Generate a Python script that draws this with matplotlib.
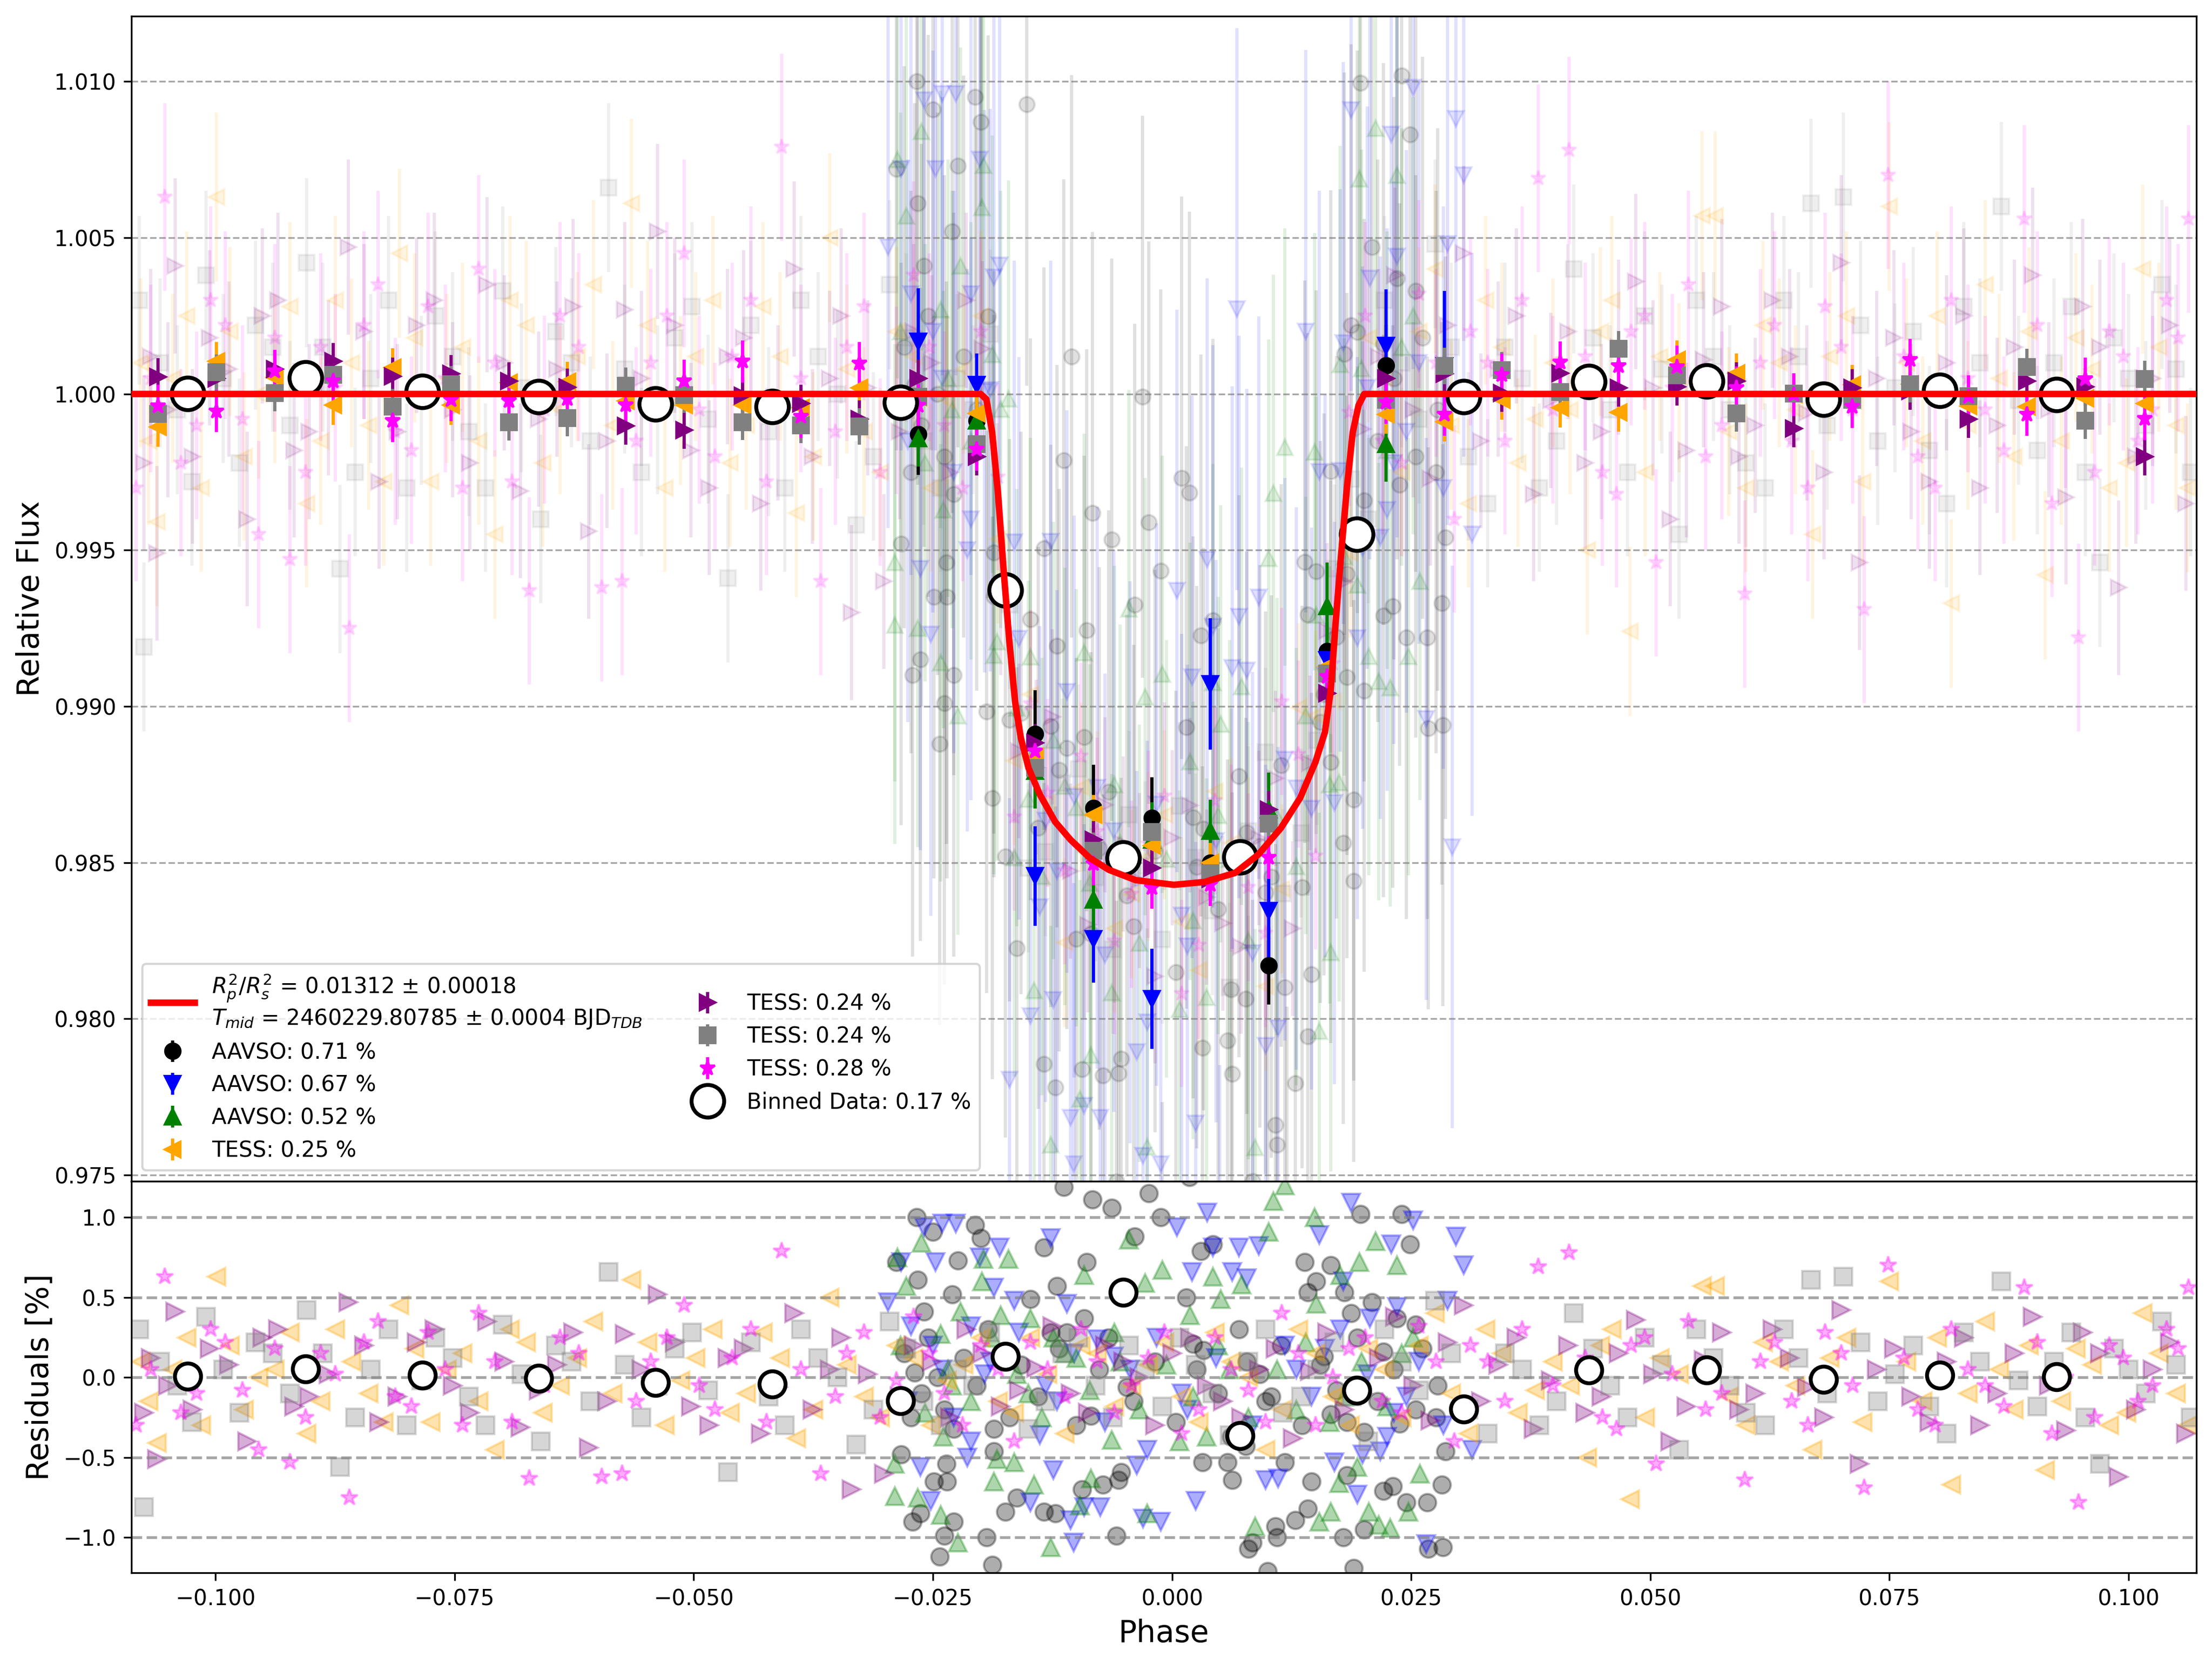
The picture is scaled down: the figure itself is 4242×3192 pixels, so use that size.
import numpy as np
import matplotlib.pyplot as plt

# -------------------------
# Data
# -------------------------
# transit model
model_phase = [-0.1088, -0.0200, -0.0194, -0.0188, -0.0182, -0.0176, -0.0170, -0.0164,
               -0.0158, -0.0150, -0.0138, -0.0122, -0.0106, -0.0086, -0.0066, -0.0038,
               0.0002, 0.0034, 0.0066, 0.0090, 0.0114, 0.0134, 0.0150, 0.0160, 0.0166,
               0.0171, 0.0177, 0.0183, 0.0189, 0.0195, 0.0201, 0.1071]
model_flux = [1.0, 1.0, 0.99983, 0.99877, 0.99685, 0.99436, 0.99206, 0.99014,
              0.98899, 0.98803, 0.98717, 0.98630, 0.98573, 0.98515, 0.98477, 0.98444,
              0.98429, 0.98438, 0.98467, 0.98525, 0.98611, 0.98707, 0.98822, 0.98918, 0.99052,
              0.99263, 0.99493, 0.99704, 0.99877, 0.99963, 1.0, 1.0]

# binned data (all sets)
bin_phase = [-0.1029, -0.0906, -0.0784, -0.0662, -0.0540, -0.0418, -0.0284, -0.0174, -0.0051,
             0.0071, 0.0193, 0.0305, 0.0436, 0.0559, 0.0681, 0.0803, 0.0925]
bin_flux = [1.00002, 1.00052, 1.00008, 0.99991, 0.99968, 0.99959, 0.99973, 0.99373, 0.98515,
            0.98518, 0.99551, 0.99991, 1.00040, 1.00042, 0.99983, 1.00011, 0.99998]
bin_resid = [0.006, 0.053, 0.014, -0.006, -0.030, -0.040, -0.146, 0.131, 0.533,
             -0.363, -0.079, -0.199, 0.047, 0.047, -0.012, 0.014, 0.003]

# binned points per dataset
tess_bin_phase = [-0.1060, -0.0999, -0.0938, -0.0877, -0.0815, -0.0754, -0.0693, -0.0632,
                  -0.0571, -0.0510, -0.0449, -0.0388, -0.0327, -0.0265, -0.0204, -0.0143,
                  -0.0082, -0.0021, 0.0040, 0.0101, 0.0162, 0.0224, 0.0285, 0.0345,
                  0.0406, 0.0467, 0.0528, 0.0590, 0.0650, 0.0711, 0.0772, 0.0833,
                  0.0894, 0.0955, 0.1017]
orange_bin = [0.99894, 1.00104, 1.00053, 0.99965, 1.00084, 0.99964, 1.00037, 1.00040,
              0.99978, 0.99964, 0.99964, 0.99956, 1.00020, 0.99990, 0.99938, 0.98840,
              0.98653, 0.98554, 0.98500, 0.98620, 0.99129, 0.99935, 0.99911, 0.99981,
              0.99956, 0.99942, 1.00109, 1.00067, 1.00000, 1.00030, 1.00031, 0.99962,
              0.99959, 0.99987, 0.99970]
purple_bin = [1.00055, 1.00050, 1.00079, 1.00104, 1.00057, 1.00065, 1.00041, 1.00021,
              0.99898, 0.99885, 0.99995, 0.99970, 0.99920, 1.00050, 0.99800, 0.98884,
              0.98573, 0.98483, 0.98448, 0.98669, 0.99042, 1.00050, 1.00065, 1.00003,
              1.00066, 1.00020, 1.00023, 1.00042, 0.99889, 1.00020, 1.00010, 0.99920,
              1.00042, 1.00023, 0.99800]
gray_bin = [0.99937, 1.00069, 1.00003, 1.00062, 0.99959, 1.00031, 0.99909, 0.99923,
            1.00026, 0.99997, 0.99910, 0.99900, 0.99896, 0.99992, 0.99839, 0.98803,
            0.98538, 0.98598, 0.98467, 0.98625, 0.99106, 0.99982, 1.00090, 1.00077,
            1.00006, 1.00144, 1.00059, 0.99938, 1.00002, 0.99981, 1.00031, 0.99993,
            1.00087, 0.99914, 1.00048]
magenta_bin = [0.99962, 0.99945, 1.00073, 1.00042, 0.99914, 0.99981, 0.99978, 0.99984,
               0.99964, 1.00042, 1.00104, 0.99928, 1.00098, 0.99963, 0.99823, 0.98857,
               0.98496, 0.98420, 0.98429, 0.98516, 0.99095, 0.99973, 0.99934, 1.00062,
               1.00101, 1.00090, 1.00087, 1.00020, 0.99998, 0.99959, 1.00109, 0.99992,
               0.99934, 1.00048, 0.99921]

aavso_bin_phase = [-0.0265, -0.0204, -0.0143, -0.0082, -0.0021, 0.0040, 0.0101, 0.0162,
                   0.0224, 0.0285]
black_bin = [0.99871, 0.99915, 0.98912, 0.98674, 0.98643, 0.98500, 0.98170, 0.99177, 1.00092]
black_bin_err = [0.0013, 0.0014, 0.0014, 0.0014, 0.0013, 0.0012, 0.00125, 0.0013, 0.0013]
blue_bin = [1.00169, 1.00030, 0.98457, 0.98256, 0.98064, 0.99072, 0.98346, 0.99148,
            1.00155, 1.00090]
blue_bin_err = [0.0017, 0.0010, 0.0016, 0.0014, 0.0016, 0.0021, 0.0015, 0.0012, 0.0018, 0.0024]
green_bin = [0.99858, 0.99915, 0.98793, 0.98381, 0.98573, 0.98601, 0.98669, 0.99320, 0.99839]
green_bin_err = [0.0009, 0.0008, 0.0012, 0.0012, 0.0012, 0.0010, 0.0012, 0.0014, 0.0012]

# raw points: (phase, residual in %)
black_raw = [(-0.0267, 1.00), (-0.0250, 0.91), (-0.0206, 0.95), (-0.0200, 0.87), (-0.0224, 0.73),
             (-0.0288, 0.72), (-0.0266, 0.61), (-0.0230, 0.52), (-0.0259, 0.41), (-0.0148, 0.49),
             (-0.0089, 0.72), (-0.0113, 1.19), (-0.0083, 1.11), (-0.0063, 1.06), (-0.0024, 1.15),
             (-0.0012, 1.00), (-0.0039, 0.88), (-0.0134, 0.81), (-0.0120, 0.57), (-0.0092, 0.37),
             (-0.0127, 0.28), (-0.0110, 0.28), (-0.0269, 0.03), (-0.0245, 0.00), (-0.0273, -0.25),
             (-0.0228, -0.32), (-0.0186, -0.32), (-0.0283, -0.48), (-0.0186, -0.46), (-0.0236, -0.54),
             (-0.0249, -0.65), (-0.0235, -0.65), (-0.0263, -0.85), (-0.0271, -0.90), (-0.0228, -0.90),
             (-0.0238, -0.99), (-0.0194, -1.00), (-0.0243, -1.12), (-0.0188, -1.17), (-0.0174, -0.84),
             (-0.0162, -0.75), (-0.0134, -0.84), (-0.0122, -0.85), (-0.0094, -0.70), (-0.0072, -0.67),
             (-0.0056, -0.64), (-0.0058, -0.99), (-0.0053, -0.59), (-0.0085, -0.24), (-0.0047, -0.06),
             (0.0197, 1.02), (0.0240, 1.02), (0.0249, 0.83), (0.0139, 0.72), (0.0166, 0.70),
             (0.0030, 0.79), (0.0043, 0.83), (0.0142, 0.53), (0.0151, 0.60), (0.0180, 0.53),
             (0.0209, 0.47), (0.0015, 0.50), (0.0187, 0.40), (0.0235, 0.37), (0.0255, 0.33),
             (0.0062, -0.37), (0.0077, -0.43), (0.0118, -0.53), (0.0058, -0.53), (0.0032, -0.53),
             (0.0063, -0.64), (0.0146, -0.65), (0.0221, -0.71), (0.0231, -0.68), (0.0282, -0.67),
             (0.0183, -0.61), (0.0245, -0.78), (0.0267, -0.78), (0.0142, -0.82), (0.0129, -0.89),
             (0.0108, -0.93), (0.0201, -0.95), (0.0110, -1.00), (0.0179, -1.00), (0.0084, -1.03),
             (0.0080, -1.07), (0.0268, -1.07), (0.0283, -1.06), (0.0190, -1.19), (0.0100, -1.21),
             (0.0286, -0.46), (0.0276, -0.25), (0.0255, -0.20), (0.0238, -0.29), (0.0183, -0.28),
             (0.0166, -0.23), (0.0201, -0.34), (0.0098, -0.15), (0.0104, -0.12), (0.0078, 0.10),
             (0.0033, 0.17), (0.0022, 0.21), (0.0221, 0.16), (0.0159, 0.13), (-0.0152, 2.10),
             (-0.0105, 1.55), (-0.0031, 1.55), (0.0010, 1.30), (0.0018, 1.25), (-0.0010, -1.60),
             (0.0120, -1.50), (-0.0200, 1.50), (0.0190, -1.45),
             (-0.0280, 0.15), (-0.0262, -0.10), (-0.0255, 0.25), (-0.0238, -0.20), (-0.0218, 0.12),
             (-0.0204, -0.05), (-0.0192, 0.30), (-0.0170, -0.25), (-0.0158, 0.08), (-0.0140, -0.12),
             (-0.0118, 0.18), (-0.0100, -0.30), (-0.0076, 0.05), (-0.0066, 0.25), (-0.0040, -0.15),
             (-0.0018, 0.10), (0.0004, -0.28), (0.0026, 0.05), (0.0048, -0.10), (0.0070, 0.30),
             (0.0092, 0.02), (0.0114, 0.20), (0.0136, -0.30), (0.0155, 0.08), (0.0172, -0.08),
             (0.0194, 0.25), (0.0215, -0.15), (0.0232, 0.05), (0.0262, 0.18), (0.0278, -0.05)]
blue_raw = [(-0.0259, 0.94), (-0.0240, 0.96), (-0.0226, 0.96), (-0.0283, 0.72), (-0.0247, 0.72),
            (-0.0201, 0.75), (-0.0180, 0.81), (-0.0127, 0.87), (-0.0186, 0.56), (-0.0165, 0.48),
            (-0.0297, 0.47), (-0.0110, 0.46), (-0.0273, 0.32), (-0.0210, 0.32), (-0.0078, 0.24),
            (-0.0263, -0.56), (-0.0252, -0.77), (-0.0214, -0.50), (-0.0148, -0.78), (-0.0124, -0.58),
            (-0.0106, -0.89), (-0.0092, -0.81), (-0.0075, -0.81), (-0.0103, -1.03), (-0.0037, -0.55),
            (-0.0030, -0.88), (-0.0012, -0.90), (-0.0210, -0.40), (-0.0138, -0.36), (-0.0026, -0.45),
            (0.0005, 0.94), (0.0037, 1.03), (0.0043, 0.81), (0.0070, 0.81), (0.0091, 0.82),
            (0.0154, 0.89), (0.0187, 1.09), (0.0252, 0.98), (0.0229, 0.83), (0.0297, 0.88),
            (0.0305, 0.70), (0.0021, 0.66), (0.0063, 0.66), (0.0078, 0.62), (0.0179, 0.60),
            (0.0235, 0.44), (0.0288, 0.48), (0.0207, 0.37), (0.0025, -0.77), (0.0098, -0.64),
            (0.0111, -0.63), (0.0194, -0.73), (0.0199, -0.48), (0.0218, -0.46), (0.0170, -0.53),
            (0.0266, -1.04), (0.0314, -0.45), (0.0225, -0.37), (-0.0190, 0.10), (-0.0120, -0.15),
            (-0.0061, 0.13), (0.0010, -0.10), (0.0130, 0.05), (0.0245, -0.12), (-0.0240, 0.05),
            (0.0160, 0.18), (0.0050, -1.50), (0.0140, 1.45), (-0.0170, -1.40),
            (0.0068, 1.80), (0.0293, -1.45),
            (-0.0276, -0.15), (-0.0250, 0.20), (-0.0228, -0.25), (-0.0196, 0.02), (-0.0160, 0.28),
            (-0.0132, -0.05), (-0.0102, 0.15), (-0.0070, -0.28), (-0.0044, 0.05), (-0.0016, 0.25),
            (0.0016, -0.20), (0.0046, 0.12), (0.0084, -0.30), (0.0118, 0.20), (0.0146, -0.12),
            (0.0176, 0.30), (0.0204, 0.02), (0.0232, -0.22), (0.0258, 0.10), (0.0284, -0.30)]
green_raw = [(-0.0262, 0.84), (-0.0287, 0.75), (-0.0171, 0.74), (-0.0197, 0.74), (-0.0278, 0.57),
             (-0.0199, 0.60), (-0.0092, 0.64), (-0.0045, 0.86), (-0.0010, 0.67), (-0.0028, 0.59),
             (-0.0179, 0.39), (-0.0148, 0.37), (-0.0221, 0.41), (-0.0124, 0.25), (-0.0242, 0.27),
             (-0.0290, -0.54), (-0.0266, -0.75), (-0.0290, -0.74), (-0.0242, -0.86), (-0.0224, -1.03),
             (-0.0186, -0.65), (-0.0165, -0.53), (-0.0144, -0.67), (-0.0127, -1.06), (-0.0085, -0.63),
             (-0.0096, -0.80), (-0.0063, -0.39), (-0.0026, -0.85), (-0.0183, -0.51), (-0.0239, -0.37),
             (0.0118, 1.20), (0.0106, 1.10), (0.0149, 1.00), (0.0101, 0.91), (0.0213, 0.85),
             (0.0196, 0.72), (0.0235, 0.70), (0.0043, 0.63), (0.0073, 0.58), (0.0176, 0.64),
             (0.0151, 0.46), (0.0051, 0.49), (0.0019, 0.39), (0.0087, -0.93), (0.0166, -0.84),
             (0.0154, -0.90), (0.0228, -0.94), (0.0216, -0.92), (0.0247, -0.84), (0.0206, -0.84),
             (0.0175, -0.66), (0.0259, -0.60), (0.0194, -0.56), (0.0008, -0.40), (0.0036, -0.37),
             (-0.0054, 0.10), (-0.0150, -0.10), (0.0060, 0.05), (0.0130, -0.20), (0.0240, 0.15),
             (-0.0230, -0.05), (-0.0100, 0.12), (0.0180, -0.12),
             (-0.0284, 0.20), (-0.0258, -0.22), (-0.0234, 0.05), (-0.0210, -0.15), (-0.0188, 0.25),
             (-0.0162, 0.02), (-0.0136, -0.25), (-0.0112, 0.15), (-0.0086, -0.08), (-0.0060, 0.28),
             (-0.0034, -0.20), (-0.0006, 0.08), (0.0022, -0.12), (0.0048, 0.20), (0.0080, -0.25),
             (0.0110, 0.05), (0.0140, 0.22), (0.0165, -0.28), (0.0198, 0.10), (0.0225, -0.18),
             (0.0252, 0.25)]
orange_raw = [(-0.1078, 0.10), (-0.1061, -0.41), (-0.1030, 0.25), (-0.0999, 0.63), (-0.0970, -0.20),
              (-0.0938, 0.05), (-0.0905, -0.35), (-0.0875, 0.30), (-0.0840, -0.10), (-0.0808, 0.45),
              (-0.0775, -0.28), (-0.0742, 0.15), (-0.0708, -0.45), (-0.0675, 0.22), (-0.0640, -0.05),
              (-0.0605, 0.35), (-0.0565, 0.61), (-0.0530, -0.30), (-0.0498, 0.12), (-0.0462, -0.22),
              (-0.0428, 0.28), (-0.0393, -0.38), (-0.0358, 0.50), (-0.0322, -0.12), (-0.0288, 0.20),
              (-0.0252, -0.30), (-0.0218, 0.08), (-0.0182, -0.15), (-0.0148, 0.25), (-0.0112, -0.35),
              (-0.0078, 0.15), (-0.0042, -0.05), (-0.0008, 0.22), (0.0028, -0.28), (0.0062, 0.10),
              (0.0098, -0.45), (0.0132, 0.30), (0.0168, -0.12), (0.0205, 0.18), (0.0240, -0.25),
              (0.0275, 0.40), (0.0310, -0.35), (0.0345, 0.15), (0.0380, -0.08), (0.0434, -0.50),
              (0.0460, 0.30), (0.0479, -0.76), (0.0510, 0.12), (0.0554, 0.57), (0.0568, 0.57),
              (0.0600, -0.30), (0.0635, 0.10), (0.0670, -0.45), (0.0705, 0.25), (0.0750, 0.60),
              (0.0785, -0.15), (0.0815, -0.67), (0.0850, 0.35), (0.0880, -0.20), (0.0913, -0.58),
              (0.0945, 0.18), (0.0980, -0.30), (0.1015, 0.40), (0.1050, -0.10),
              (-0.1070, -0.15), (-0.1045, 0.05), (-0.1015, -0.30), (-0.0985, 0.20), (-0.0955, 0.00),
              (-0.0922, 0.28), (-0.0890, -0.15), (-0.0858, 0.10), (-0.0824, -0.28), (-0.0792, 0.18),
              (-0.0758, 0.05), (-0.0725, -0.15), (-0.0692, 0.30), (-0.0658, -0.22), (-0.0622, 0.12),
              (-0.0585, -0.10), (-0.0548, 0.22), (-0.0514, -0.02), (-0.0480, 0.30), (-0.0445, -0.10),
              (-0.0410, 0.12), (-0.0375, -0.20), (-0.0340, 0.08), (-0.0305, -0.25), (-0.0270, 0.12),
              (-0.0235, -0.02), (-0.0200, 0.25), (-0.0165, -0.22), (-0.0130, 0.02), (-0.0095, 0.20),
              (-0.0060, -0.18), (-0.0025, 0.08), (0.0010, -0.12), (0.0045, 0.28), (0.0080, 0.00),
              (0.0115, -0.20), (0.0150, 0.15), (0.0186, -0.30), (0.0222, 0.05), (0.0258, 0.20),
              (0.0292, -0.10), (0.0328, 0.30), (0.0362, -0.22), (0.0398, 0.10), (0.0416, -0.05),
              (0.0448, 0.20), (0.0495, -0.25), (0.0530, 0.02), (0.0582, -0.12), (0.0618, 0.22),
              (0.0652, -0.05), (0.0688, 0.12), (0.0722, -0.28), (0.0768, 0.10), (0.0800, 0.25),
              (0.0832, -0.10), (0.0865, 0.05), (0.0896, 0.20), (0.0930, -0.15), (0.0962, 0.08),
              (0.0998, -0.22), (0.1032, 0.15), (0.1062, -0.30)]
purple_raw = [(-0.1075, -0.22), (-0.1061, -0.51), (-0.1042, 0.41), (-0.1006, 0.18), (-0.0967, -0.40),
              (-0.0935, 0.30), (-0.0902, -0.12), (-0.0861, 0.47), (-0.0829, -0.28), (-0.0790, 0.22),
              (-0.0752, -0.05), (-0.0716, 0.35), (-0.0681, -0.31), (-0.0643, 0.08), (-0.0610, -0.44),
              (-0.0572, 0.27), (-0.0538, 0.52), (-0.0503, -0.18), (-0.0465, 0.12), (-0.0430, -0.35),
              (-0.0395, 0.40), (-0.0358, 0.05), (-0.0335, -0.70), (-0.0301, -0.60), (-0.0270, 0.20),
              (-0.0232, -0.25), (-0.0198, 0.15), (-0.0160, -0.08), (-0.0125, 0.32), (-0.0088, -0.22),
              (-0.0051, 0.10), (-0.0018, -0.30), (0.0019, 0.25), (0.0053, -0.15), (0.0091, 0.05),
              (0.0126, -0.38), (0.0162, 0.28), (0.0199, -0.10), (0.0233, 0.38), (0.0270, -0.27),
              (0.0305, 0.45), (0.0341, 0.08), (0.0378, -0.32), (0.0414, 0.20), (0.0449, -0.12),
              (0.0485, 0.36), (0.0521, -0.40), (0.0556, 0.11), (0.0593, -0.20), (0.0628, 0.30),
              (0.0664, -0.06), (0.0700, 0.42), (0.0719, -0.54), (0.0755, 0.18), (0.0792, -0.28),
              (0.0828, 0.25), (0.0863, -0.10), (0.0900, 0.38), (0.0935, -0.33), (0.0970, 0.15),
              (0.0990, -0.62), (0.1025, 0.05), (0.1060, -0.35),
              (-0.1068, 0.12), (-0.1050, -0.05), (-0.1024, -0.20), (-0.0986, 0.08), (-0.0951, 0.25),
              (-0.0918, -0.18), (-0.0882, 0.02), (-0.0845, 0.20), (-0.0810, -0.12), (-0.0771, 0.30),
              (-0.0734, -0.22), (-0.0698, 0.10), (-0.0662, -0.08), (-0.0626, 0.28), (-0.0591, -0.15),
              (-0.0555, 0.05), (-0.0520, 0.22), (-0.0484, -0.30), (-0.0448, 0.18), (-0.0412, -0.06),
              (-0.0376, -0.20), (-0.0346, 0.25), (-0.0318, 0.02), (-0.0285, -0.12), (-0.0251, 0.10),
              (-0.0215, 0.30), (-0.0179, -0.18), (-0.0142, 0.06), (-0.0106, -0.10), (-0.0070, 0.20),
              (-0.0034, 0.00), (0.0000, 0.15), (0.0036, -0.05), (0.0072, -0.25), (0.0108, 0.18),
              (0.0144, 0.04), (0.0180, -0.20), (0.0216, 0.12), (0.0252, -0.05), (0.0288, 0.22),
              (0.0323, -0.15), (0.0360, 0.25), (0.0396, -0.02), (0.0432, -0.22), (0.0467, 0.15),
              (0.0503, 0.02), (0.0538, -0.18), (0.0575, 0.28), (0.0610, -0.10), (0.0646, 0.12),
              (0.0682, -0.25), (0.0737, 0.05), (0.0773, -0.12), (0.0810, 0.10), (0.0845, -0.30),
              (0.0881, 0.15), (0.0917, -0.05), (0.0952, 0.28), (0.1008, -0.20), (0.1043, 0.22)]
gray_raw = [(-0.1080, 0.30), (-0.1075, -0.81), (-0.1040, -0.05), (-0.1010, 0.38), (-0.0975, -0.22),
            (-0.0940, 0.15), (-0.0905, 0.42), (-0.0870, -0.56), (-0.0838, 0.05), (-0.0800, -0.30),
            (-0.0770, 0.25), (-0.0735, -0.12), (-0.0700, 0.33), (-0.0660, -0.40), (-0.0628, 0.10),
            (-0.0589, 0.66), (-0.0555, -0.25), (-0.0520, 0.18), (-0.0485, -0.08), (-0.0464, -0.59),
            (-0.0440, 0.22), (-0.0405, -0.30), (-0.0370, 0.12), (-0.0330, -0.42), (-0.0295, 0.35),
            (-0.0260, -0.15), (-0.0225, 0.05), (-0.0190, 0.28), (-0.0150, -0.32), (-0.0115, 0.15),
            (-0.0080, -0.05), (-0.0045, 0.20), (-0.0010, -0.18), (0.0025, 0.08), (0.0060, -0.36),
            (0.0098, 0.30), (0.0135, -0.12), (0.0170, 0.22), (0.0205, -0.40), (0.0240, 0.10),
            (0.0275, 0.48), (0.0310, -0.20), (0.0348, 0.15), (0.0384, -0.30), (0.0420, 0.40),
            (0.0458, -0.05), (0.0494, 0.25), (0.0530, -0.45), (0.0566, 0.12), (0.0600, -0.22),
            (0.0640, 0.30), (0.0668, 0.61), (0.0702, 0.63), (0.0738, -0.15), (0.0775, 0.20),
            (0.0810, -0.35), (0.0845, 0.10), (0.0867, 0.60), (0.0905, -0.18), (0.0940, 0.28),
            (0.0970, -0.54), (0.1000, 0.05), (0.1035, 0.35), (0.1065, -0.25),
            (-0.1058, 0.10), (-0.1025, -0.28), (-0.0992, 0.05), (-0.0958, 0.22), (-0.0922, -0.10),
            (-0.0888, 0.15), (-0.0854, -0.25), (-0.0819, 0.30), (-0.0785, -0.02), (-0.0752, 0.12),
            (-0.0718, -0.30), (-0.0680, 0.02), (-0.0644, 0.20), (-0.0608, -0.15), (-0.0572, 0.08),
            (-0.0538, -0.05), (-0.0502, 0.28), (-0.0422, -0.12), (-0.0388, 0.30), (-0.0350, 0.00),
            (-0.0312, -0.20), (-0.0278, 0.18), (-0.0242, -0.30), (-0.0208, -0.05), (-0.0170, 0.12),
            (-0.0132, -0.15), (-0.0098, 0.25), (-0.0062, -0.25), (-0.0028, 0.05), (0.0008, 0.25),
            (0.0042, -0.10), (0.0080, 0.10), (0.0116, -0.22), (0.0152, 0.05), (0.0188, -0.12),
            (0.0222, 0.30), (0.0258, -0.08), (0.0292, 0.15), (0.0330, -0.35), (0.0366, 0.05),
            (0.0402, -0.15), (0.0440, 0.18), (0.0476, -0.25), (0.0512, 0.08), (0.0548, 0.30),
            (0.0583, -0.05), (0.0620, -0.30), (0.0655, 0.12), (0.0685, -0.10), (0.0720, 0.22),
            (0.0756, 0.02), (0.0792, -0.18), (0.0828, 0.28), (0.0885, -0.02), (0.0922, 0.10),
            (0.0955, -0.25), (0.0985, 0.18), (0.1018, -0.10), (0.1050, 0.08)]
magenta_raw = [(-0.1083, -0.30), (-0.1053, 0.63), (-0.1020, -0.10), (-0.0990, 0.22), (-0.0955, -0.45),
               (-0.0922, -0.53), (-0.0890, 0.15), (-0.0860, -0.75), (-0.0830, 0.35), (-0.0795, -0.18),
               (-0.0760, 0.05), (-0.0725, 0.40), (-0.0690, -0.28), (-0.0672, -0.63), (-0.0640, 0.25),
               (-0.0596, -0.62), (-0.0575, -0.60), (-0.0545, 0.10), (-0.0510, 0.45), (-0.0478, -0.20),
               (-0.0440, 0.30), (-0.0408, 0.79), (-0.0367, -0.60), (-0.0340, 0.15), (-0.0305, -0.25),
               (-0.0270, 0.38), (-0.0238, -0.10), (-0.0200, 0.20), (-0.0165, -0.40), (-0.0130, 0.05),
               (-0.0095, 0.30), (-0.0060, -0.22), (-0.0025, 0.12), (0.0010, -0.35), (0.0045, 0.25),
               (0.0080, -0.08), (0.0115, 0.40), (0.0150, -0.30), (0.0185, 0.18), (0.0220, -0.15),
               (0.0258, 0.32), (0.0295, -0.40), (0.0330, 0.10), (0.0383, 0.69), (0.0415, 0.78),
               (0.0450, -0.25), (0.0480, 0.20), (0.0506, -0.54), (0.0540, 0.35), (0.0575, -0.10),
               (0.0599, -0.64), (0.0630, 0.22), (0.0665, -0.30), (0.0700, 0.15), (0.0724, -0.69),
               (0.0749, 0.70), (0.0780, -0.20), (0.0815, 0.30), (0.0850, -0.05), (0.0891, 0.56),
               (0.0920, -0.35), (0.0948, -0.78), (0.0980, 0.20), (0.1010, -0.15), (0.1040, 0.30),
               (0.1063, 0.56),
               (-0.1068, 0.05), (-0.1036, -0.22), (-0.1005, 0.30), (-0.0972, -0.08), (-0.0938, 0.18),
               (-0.0906, -0.25), (-0.0875, 0.02), (-0.0845, 0.22), (-0.0812, -0.12), (-0.0778, 0.28),
               (-0.0742, -0.30), (-0.0708, 0.10), (-0.0656, -0.05), (-0.0620, 0.15), (-0.0560, -0.15),
               (-0.0528, 0.25), (-0.0494, -0.05), (-0.0460, 0.12), (-0.0424, -0.28), (-0.0388, 0.05),
               (-0.0352, -0.12), (-0.0322, 0.28), (-0.0288, -0.02), (-0.0254, 0.15), (-0.0219, -0.30),
               (-0.0182, 0.05), (-0.0148, 0.22), (-0.0112, -0.12), (-0.0078, 0.10), (-0.0042, -0.05),
               (-0.0008, 0.28), (0.0028, -0.20), (0.0062, 0.05), (0.0098, -0.28), (0.0132, 0.15),
               (0.0168, 0.00), (0.0202, 0.25), (0.0240, -0.22), (0.0276, 0.10), (0.0312, 0.20),
               (0.0348, -0.15), (0.0366, 0.30), (0.0398, -0.05), (0.0432, 0.12), (0.0465, -0.32),
               (0.0494, 0.25), (0.0523, 0.02), (0.0558, -0.20), (0.0615, 0.10), (0.0648, -0.15),
               (0.0683, 0.28), (0.0712, -0.05), (0.0765, 0.12), (0.0798, -0.30), (0.0832, 0.05),
               (0.0870, -0.18), (0.0905, 0.22), (0.0934, 0.00), (0.0965, -0.25), (0.0995, 0.12),
               (0.1025, -0.05), (0.1052, 0.18)]

# -------------------------
# Dataset styles
# -------------------------
sets = [
    ("AAVSO: 0.71 %", "black", "o", black_raw, 0.009, aavso_bin_phase[:9], black_bin, black_bin_err),
    ("AAVSO: 0.67 %", "blue", "v", blue_raw, 0.009, aavso_bin_phase, blue_bin, blue_bin_err),
    ("AAVSO: 0.52 %", "green", "^", green_raw, 0.007, aavso_bin_phase[:9], green_bin, green_bin_err),
    ("TESS: 0.25 %", "orange", "<", orange_raw, 0.0027, tess_bin_phase, orange_bin, 0.00063),
    ("TESS: 0.24 %", "purple", ">", purple_raw, 0.0028, tess_bin_phase, purple_bin, 0.00060),
    ("TESS: 0.24 %", "gray", "s", gray_raw, 0.0027, tess_bin_phase, gray_bin, 0.00058),
    ("TESS: 0.28 %", "magenta", "*", magenta_raw, 0.0030, tess_bin_phase, magenta_bin, 0.00068),
]

# -------------------------
# Plot
# -------------------------
fig = plt.figure(figsize=(14.14, 10.64), dpi=300)
ax = fig.add_axes([0.0594, 0.2901, 0.9335, 0.7003])
axr = fig.add_axes([0.0594, 0.0548, 0.9335, 0.2353], sharex=ax)

handles = []
model_line, = ax.plot(model_phase, model_flux, color="red", lw=3, zorder=10,
                      label="$R_{p}^{2}/R_{s}^{2}$ = 0.01312 ± 0.00018\n"
                            "$T_{mid}$ = 2460229.80785 ± 0.0004 BJD$_{TDB}$")
handles.append(model_line)

for label, color, marker, raw, raw_err, bph, bflux, berr in sets:
    raw = np.array(raw)
    ph, res = raw[:, 0], raw[:, 1]
    flux = np.interp(ph, model_phase, model_flux) + res / 100.0
    ax.errorbar(ph, flux, yerr=raw_err, fmt=marker, color=color, alpha=0.12,
                ms=7, zorder=1)
    axr.plot(ph, res, marker, color=color, alpha=0.32, ms=8, zorder=1)
    h = ax.errorbar(bph, bflux, yerr=berr, fmt=marker, color=color, ms=7,
                    zorder=5, label=label)
    handles.append(h)

bh, = ax.plot(bin_phase, bin_flux, "o", ms=15, mfc="white", mec="black", mew=1.8,
              zorder=8, label="Binned Data: 0.17 %")
handles.append(bh)
axr.plot(bin_phase, bin_resid, "o", ms=12, mfc="white", mec="black", mew=1.8, zorder=8)

ax.set_xlim(-0.1088, 0.1071)
ax.set_ylim(0.9748, 1.0121)
ax.set_ylabel("Relative Flux", fontsize=14)
ax.yaxis.grid(True, linestyle="--", color="gray", alpha=0.7)
ax.tick_params(labelbottom=False)

axr.set_ylim(-1.22, 1.225)
axr.set_yticks([-1.0, -0.5, 0.0, 0.5, 1.0])
axr.set_xticks([-0.1, -0.075, -0.05, -0.025, 0.0, 0.025, 0.05, 0.075, 0.1])
axr.set_xlabel("Phase", fontsize=14)
axr.set_ylabel("Residuals [%]", fontsize=14)
axr.yaxis.grid(True, linestyle="--", color="gray", alpha=0.7, lw=1.3)

ax.legend(handles, [h.get_label() for h in handles],
          loc="lower left", ncol=2, fontsize=10)

fig.savefig("out.png", dpi=300)
